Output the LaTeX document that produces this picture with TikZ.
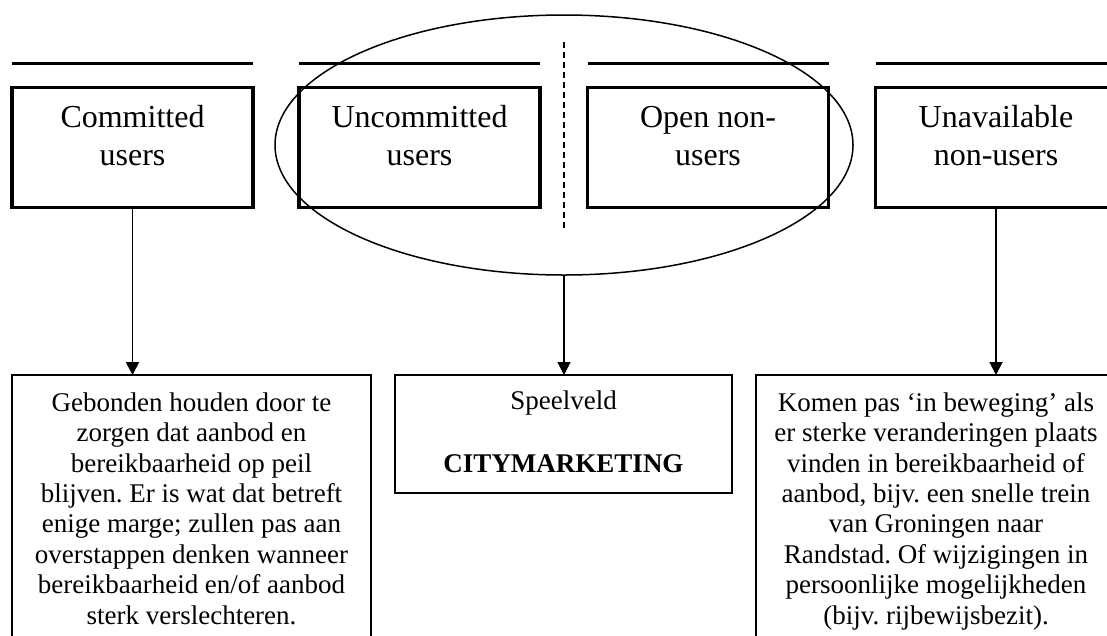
\documentclass[tikz,border=0pt]{standalone}
\usepackage{fontspec}
\setmainfont{Liberation Serif}
\frenchspacing
\usetikzlibrary{shapes.geometric,arrows.meta}
\tikzset{
  topbox/.style={draw, line width=3.2pt, minimum width=241pt, minimum height=120pt, inner sep=0pt, outer sep=0pt},
  botbox/.style={draw, line width=2pt, anchor=north, inner sep=0pt, outer sep=0pt},
  toptext/.style={anchor=base, align=center, inner sep=0pt, font=\fontsize{32}{38}\selectfont},
  bottext/.style={anchor=base, align=center, inner sep=0pt, font=\fontsize{27}{30.4}\selectfont},
  bar/.style={line width=3.5pt},
  arr/.style={line width=1.8pt, -{Triangle[length=13pt,width=13pt]}},
  oval/.style={draw, ellipse, line width=1.5pt, inner sep=0pt, outer sep=0pt},
  divider/.style={line width=1.5pt, dash pattern=on 6pt off 4pt}
}
\begin{document}
\begin{tikzpicture}[x=1pt,y=-1pt]
\useasboundingbox (0,0) rectangle (1107,635);
\clip (0,0) rectangle (1107,635);
\fill[white] (0,0) rectangle (1107,635);

% top boxes
\node[topbox] (b1) at (132.5,147.5) {};
\node[topbox] (b2) at (419.5,147.5) {};
\node[topbox] (b3) at (708,147.5) {};
\node[topbox] (b4) at (996,147.5) {};

% (anchor base = baseline of the last line)
\node[toptext] (t1) at (132.5,165) {Committed\\users};
\node[toptext] (t2) at (419.5,165) {Uncommitted\\users};
\node[toptext] (t3) at (708,165) {Open non-\\users};
\node[toptext] (t4) at (996,165) {Unavailable\\non-users};

% bars above the boxes
\foreach \b in {b1,b2,b3,b4}
  \draw[bar] ([yshift=24pt]\b.north west) -- ([yshift=24pt]\b.north east);

% ellipse and divider
\node[oval, minimum width=578pt, minimum height=260pt] (ell) at (564,145) {};
\coordinate (dtop) at (564,42);
\coordinate (dbot) at (564,230);
\draw[divider] (dtop) -- (dbot);

% bottom boxes
\node[botbox, minimum width=359pt, minimum height=280pt] (bA) at (191.5,375) {};
\node[botbox, minimum width=337pt, minimum height=118pt] (bB) at (563.5,375) {};
\node[botbox, minimum width=360pt, minimum height=280pt] (bC) at (936,375) {};

\node[bottext] (tA) at (191.5,624) {Gebonden houden door te\\zorgen dat aanbod en\\bereikbaarheid op peil\\blijven. Er is wat dat betreft\\enige marge; zullen pas aan\\overstappen denken wanneer\\bereikbaarheid en/of aanbod\\sterk verslechteren.};
\node[bottext] (tB) at (563.5,472) {Speelveld\\[32.6pt]\textbf{CITYMARKETING}};
\node[bottext] (tC) at (936,624) {Komen pas ‘in beweging’ als\\er sterke veranderingen plaats\\vinden in bereikbaarheid of\\aanbod, bijv. een snelle trein\\van Groningen naar\\Randstad. Of wijzigingen in\\persoonlijke mogelijkheden\\(bijv. rijbewijsbezit).};

% arrows
\draw[arr] (b1.south) -- (b1.south |- bA.north);
\draw[arr] (ell.south) -- (ell.south |- bB.north);
\draw[arr] (b4.south) -- (b4.south |- bC.north);
\end{tikzpicture}
\end{document}
